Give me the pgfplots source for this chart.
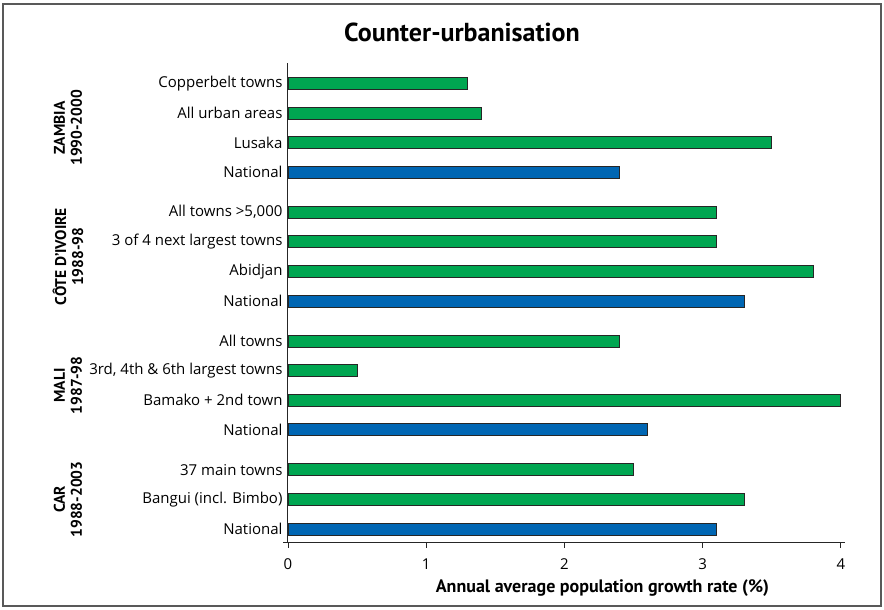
\documentclass[border=0pt]{standalone}
\usepackage{pgfplots}
\pgfplotsset{compat=1.18}
\usepackage{fontspec}
\setmainfont{PT Sans}
\newfontfamily\osans{Open Sans}
\definecolor{barg}{HTML}{00A651}
\definecolor{barb}{HTML}{0066B3}
\definecolor{edge}{HTML}{262626}
\begin{document}
\begin{tikzpicture}[x=1pt,y=1pt]
\useasboundingbox (0,0) rectangle (884,610);
\draw[line width=1.4pt, black!65] (3,4) rectangle (881,606);
\node[font=\bfseries\fontsize{26}{28}\selectfont] at (462,578) {Counter-urbanisation};
\begin{axis}[
    at={(288pt,67pt)}, anchor=south west,
    scale only axis,
    width=557pt, height=480pt,
    xmin=0, xmax=4.03,
    ymin=-0.47, ymax=15.74,
    axis x line*=bottom,
    axis y line*=left,
    axis line style={line width=1pt, black!85},
    xtick={0,1,2,3,4},
    tick align=outside,
    major tick length=5pt,
    x tick style={line width=0.8pt, black!85},
    xticklabel style={font=\osans\fontsize{15}{17}\selectfont, yshift=-7pt},
    /pgf/number format/assume math mode=true,
    ytick={0,1,2,3.35,4.35,5.35,6.35,7.7,8.7,9.7,10.7,12.05,13.05,14.05,15.05},
    yticklabels={National, Bangui (incl. Bimbo), 37 main towns,
                 National, Bamako + 2nd town, {3rd, 4th \& 6th largest towns}, All towns,
                 National, Abidjan, 3 of 4 next largest towns, {All towns >5,000},
                 National, Lusaka, All urban areas, Copperbelt towns},
    y tick style={draw=none},
    yticklabel style={font=\osans\fontsize{15}{17}\selectfont, xshift=3pt},
    xbar, bar width=12pt, bar shift=0pt,
    clip=false,
]
\addplot[fill=barg, draw=edge, line width=0.9pt] coordinates {
    (3.3,1) (2.5,2)
    (4.0,4.35) (0.5,5.35) (2.4,6.35)
    (3.8,8.7) (3.1,9.7) (3.1,10.7)
    (3.5,13.05) (1.4,14.05) (1.3,15.05)
};
\addplot[fill=barb, draw=edge, line width=0.9pt] coordinates {
    (3.1,0) (2.6,3.35) (3.3,7.7) (2.4,12.05)
};
\draw[line width=1pt, black!85] (axis cs:-0.036,-0.47) -- (axis cs:0,-0.47);
\node[font=\bfseries\fontsize{18}{20}\selectfont] at ([yshift=-45pt]axis cs:2.275,-0.47)
    {Annual average population growth rate (\%)};
\node[rotate=90, align=center, font=\bfseries\fontsize{15.5}{17}\selectfont]
    at ([xshift=-220pt]axis cs:0,13.55) {ZAMBIA\\1990-2000};
\node[rotate=90, align=center, font=\bfseries\fontsize{15.5}{17}\selectfont]
    at ([xshift=-220pt]axis cs:0,9.2) {CÔTE D’IVOIRE\\1988-98};
\node[rotate=90, align=center, font=\bfseries\fontsize{15.5}{17}\selectfont]
    at ([xshift=-220pt]axis cs:0,4.85) {MALI\\1987-98};
\node[rotate=90, align=center, font=\bfseries\fontsize{15.5}{17}\selectfont]
    at ([xshift=-220pt]axis cs:0,1) {CAR\\1988-2003};
\end{axis}
\end{tikzpicture}
\end{document}
